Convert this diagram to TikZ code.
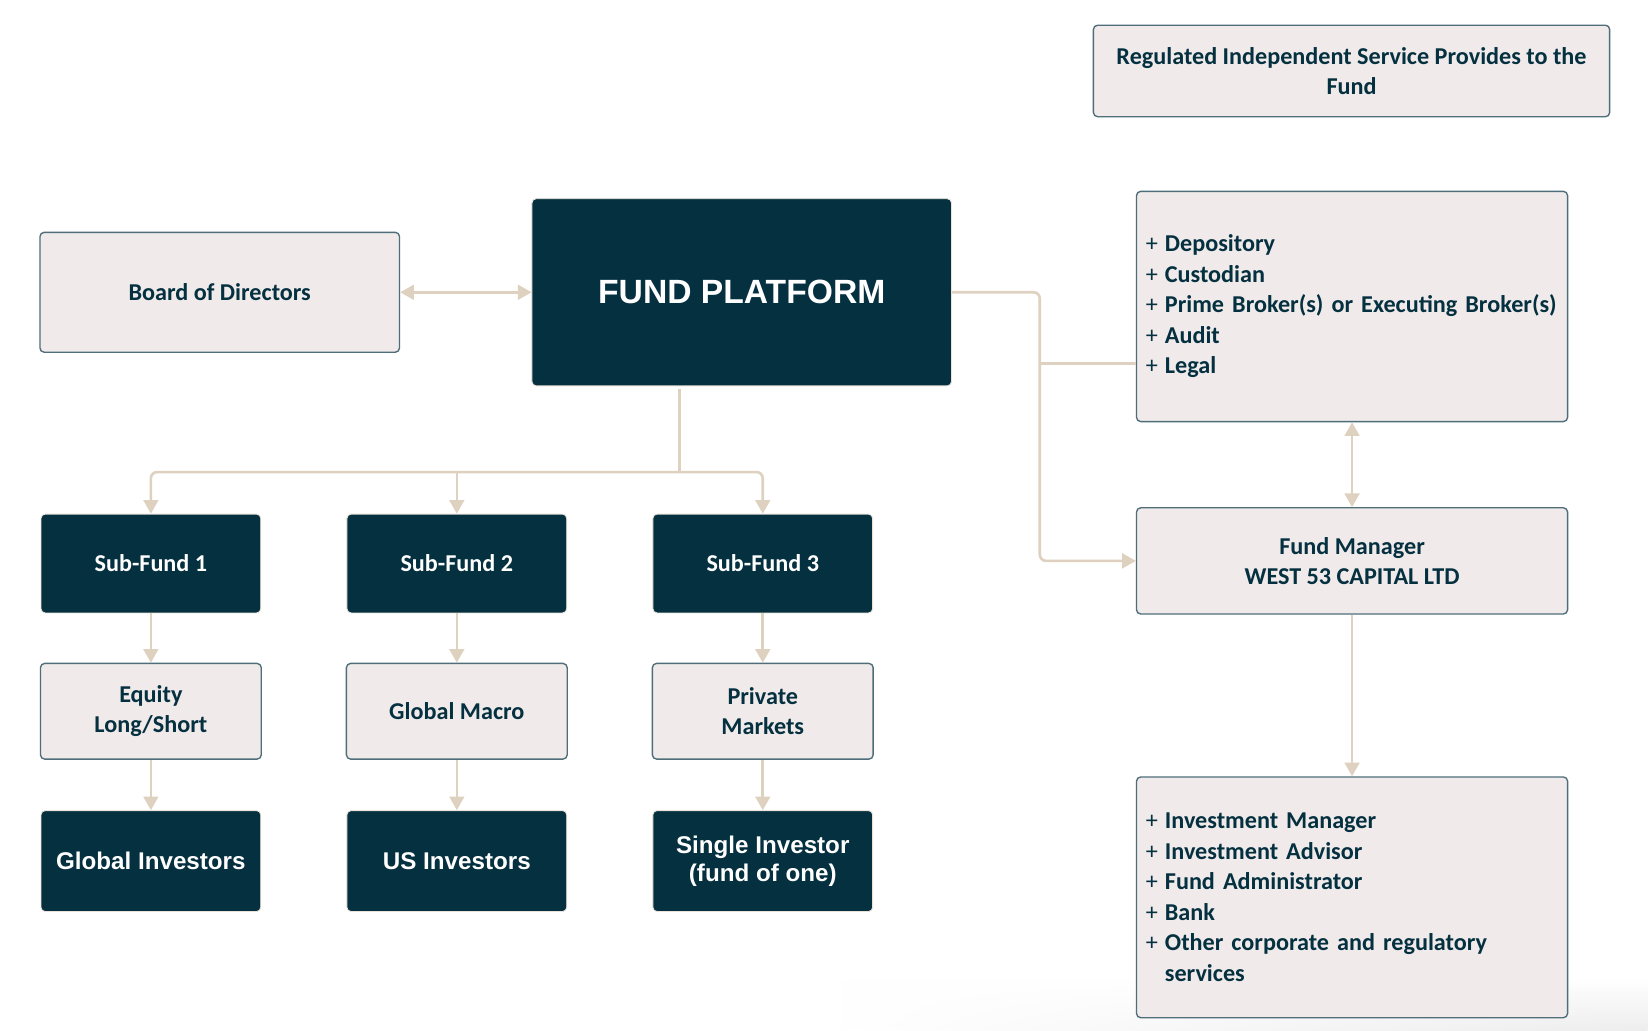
\documentclass[tikz,border=0pt]{standalone}
\usepackage{fontspec}
\setmainfont{Carlito}
\newfontfamily\arialfont{Liberation Sans}
\usetikzlibrary{arrows.meta,calc,fadings}
\definecolor{navy}{HTML}{04303F}
\definecolor{lightfill}{HTML}{F0EAEA}
\definecolor{edgecol}{HTML}{4F6E7A}
\definecolor{beige}{HTML}{DED1BF}
\tikzset{
  lightbox/.style={draw=edgecol, line width=1.3pt, fill=lightfill, rounded corners=4pt,
    inner sep=0pt, text=navy, align=center,
    font=\fontsize{23}{29}\selectfont\bfseries},
  darkbox/.style={draw=beige!60, line width=0.8pt, fill=navy, rounded corners=4pt,
    inner sep=0pt, text=white, align=center,
    font=\fontsize{23}{29}\selectfont\bfseries},
  arialtext/.style={font=\arialfont\fontsize{23}{27}\selectfont\bfseries},
  listbox/.style={lightbox, align=left, text width=392pt},
  conn/.style={draw=beige, line width=2.5pt},
  tip/.style={-{Triangle[length=13pt,width=14pt]}},
  tips/.style={{Triangle[length=13pt,width=14pt]}-{Triangle[length=13pt,width=14pt]}},
}
\newcommand{\pl}{\makebox[18pt][l]{\mdseries +}}
\begin{document}
\begin{tikzpicture}[x=1pt,y=-1pt]
\useasboundingbox[fill=white] (0,0) rectangle (1567.5,979.7);
% faint screenshot shadow along the bottom edge
\shade[top color=white, bottom color=black!7, path fading=west] (800,930) rectangle (1567.5,979.7);

% top-right title
\node[lightbox, minimum width=491pt, minimum height=87pt] (reg) at (1285.5,67.5)
  {Regulated Independent Service Provides to the\\Fund};

% board and platform
\node[lightbox, minimum width=342pt, minimum height=114pt] (board) at (209,278) {Board of Directors};
\node[darkbox, minimum width=399pt, minimum height=178pt,
      font=\arialfont\fontsize{32}{36}\selectfont\bfseries] (fp) at (705.5,278) {FUND PLATFORM};

% right column
\node[listbox, minimum width=410pt, minimum height=219pt] (svc) at (1286,291.5)
  {\pl Depository\\\pl Custodian\\\pl Prime Broker(s) or Executing Broker(s)\\\pl Audit\\\pl Legal};
\node[lightbox, minimum width=410pt, minimum height=101pt] (fm) at (1286,533.5)
  {Fund Manager\\WEST 53 CAPITAL LTD};
\node[listbox, minimum width=410pt, minimum height=229pt] (oth) at (1286,853.5)
  {\pl Investment Manager\\\pl Investment Advisor\\\pl Fund Administrator\\\pl Bank\\\pl Other corporate and regulatory\\\hspace*{18pt}services};

% sub-funds
\node[darkbox, minimum width=209pt, minimum height=94pt] (sf1) at (143.5,536) {Sub-Fund 1};
\node[darkbox, minimum width=209pt, minimum height=94pt] (sf2) at (434.5,536) {Sub-Fund 2};
\node[darkbox, minimum width=209pt, minimum height=94pt] (sf3) at (725.5,536) {Sub-Fund 3};

% strategies
\node[lightbox, minimum width=210pt, minimum height=91pt] (st1) at (143.5,676.5) {Equity\\Long/Short};
\node[lightbox, minimum width=210pt, minimum height=91pt] (st2) at (434.5,676.5) {Global Macro};
\node[lightbox, minimum width=210pt, minimum height=91pt] (st3) at (725.5,676.5) {Private\\Markets};

% investors
\node[darkbox, arialtext, minimum width=209pt, minimum height=96pt] (inv1) at (143.5,819) {Global Investors};
\node[darkbox, arialtext, minimum width=209pt, minimum height=96pt] (inv2) at (434.5,819) {US Investors};
\node[darkbox, arialtext, minimum width=209pt, minimum height=96pt] (inv3) at (725.5,819) {Single Investor\\(fund of one)};

% connectors
\draw[conn, tips] (board.east) -- (fp.west);

\coordinate (hub) at (646,449);
\draw[conn] ($(fp.south -| hub)+(0,3)$) -- (hub);
\draw[conn, tip, rounded corners=6pt] (hub) -| (sf1.north);
\draw[conn, tip] (hub -| sf2.north) -- (sf2.north);
\draw[conn, tip, rounded corners=6pt] (hub) -| (sf3.north);

\coordinate (rj) at (989,278);
\coordinate (rb) at (989,346);
\draw[conn, tip, rounded corners=6pt] (fp.east) -- (rj) |- (fm.west);
\draw[conn] (rb) -- (rb -| svc.west);

\draw[conn, tips] (svc.south) -- (fm.north);
\draw[conn, tip] (fm.south) -- (oth.north);

\foreach \i in {1,2,3}{
  \draw[conn, tip] (sf\i.south) -- (st\i.north);
  \draw[conn, tip] (st\i.south) -- (inv\i.north);
}
\end{tikzpicture}
\end{document}
